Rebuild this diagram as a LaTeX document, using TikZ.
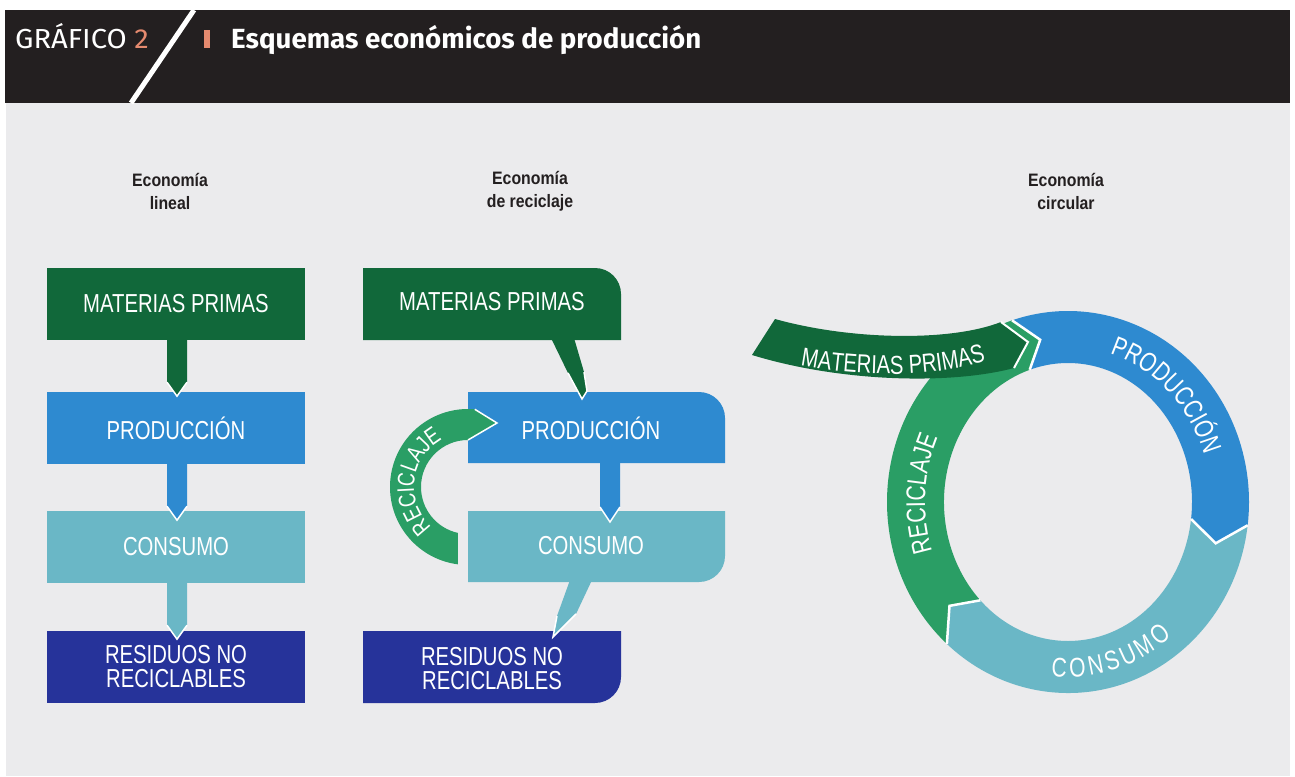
\documentclass[tikz,border=0pt]{standalone}
\usepackage{fontspec}
\usetikzlibrary{calc,decorations.text}
\newfontfamily\condfont[FakeStretch=0.78]{Liberation Sans}
\newfontfamily\hdrfont[FakeStretch=0.88]{Liberation Sans}
\newfontfamily\titlefont{Fira Sans}
\newfontfamily\gfont[FakeStretch=1.06]{Fira Sans}
\definecolor{cbg}{HTML}{EBEBED}
\definecolor{chead}{HTML}{231F20}
\definecolor{csalmon}{HTML}{E58A6F}
\definecolor{cmp}{HTML}{11683A}
\definecolor{cprod}{HTML}{2E8AD0}
\definecolor{ccons}{HTML}{6AB7C6}
\definecolor{cres}{HTML}{26339A}
\definecolor{crec}{HTML}{2A9E65}
\newcommand\lblfont{\condfont\fontsize{26}{24}\selectfont}
\newcommand\ringfnt{\condfont\fontsize{27}{27}\selectfont}
\newcommand\cfnt{\condfont\fontsize{24}{24}\selectfont}
\newcommand\banfnt{\condfont\fontsize{26}{26}\selectfont}
\begin{document}
\begin{tikzpicture}[x=1pt,y=1pt,
  lbl/.style={text=white, font=\lblfont, align=center, inner sep=0pt},
  box/.style={minimum width=258pt, minimum height=72pt, inner sep=0pt, lbl},
  hdr/.style={font=\hdrfont\bfseries\fontsize{18}{23}\selectfont, align=center, text=chead, inner sep=0pt},
  sep/.style={white, line width=1.5pt, line join=miter},
  ringtext/.style={decorate, decoration={text along path, text align=center, text color=white, text={|\ringfnt|#1}}},
  ringfit/.style={decorate, decoration={text along path, text align=fit to path, text color=white, text={|\ringfnt|#1}}}
]
\useasboundingbox (0,0) rectangle (1295,-776);
\fill[white] (0,0) rectangle (1295,-776);
\fill[cbg] (6,-103) rectangle (1290,-776);
% header
\fill[chead] (5,-10) rectangle (1290,-103);
\draw[white, line width=5pt] (194,-10) -- (131,-103);
\fill[csalmon] (204,-30) rectangle (209.5,-48.5);
\node[anchor=base west, text=white, font=\gfont\fontsize{27.5}{27}\selectfont, inner sep=0pt] (gnum) at (15,-48.5) {GRÁFICO \textcolor{csalmon}{2}};
\node[anchor=base west, text=white, font=\titlefont\bfseries\fontsize{27.7}{27}\selectfont, inner sep=0pt] (gtitle) at (231,-48.5) {Esquemas económicos de producción};
% column headers
\node[hdr] (h1) at (170,-191.5) {Economía\\lineal};
\node[hdr] (h2) at (530,-191.5) {Economía\\de reciclaje};
\node[hdr] (h3) at (1066,-191.5) {Economía\\circular};
% ---------------- linear economy
\node[box, fill=cmp] (lmp) at (176,-304) {MATERIAS PRIMAS};
\node[box, fill=cprod] (lpr) at (176,-428) {PRODUCCIÓN};
\node[box, fill=ccons] (lco) at (176,-547) {CONSUMO};
\node[box, fill=cres] (lre) at (176,-667) {RESIDUOS NO\\RECICLABLES};
\foreach \src/\col in {lmp/cmp, lpr/cprod, lco/ccons}{
  \fill[\col] ($(\src.south)+(-9,1)$) -- ++(20,0) -- ++(0,-43) -- ++(-10,-14) -- ++(-10,14) -- cycle;
  \draw[sep] ($(\src.south)+(11,-42)$) -- ++(-10,-14) -- ++(-10,14);
}
% ---------------- recycling economy
\fill[cmp] (363,-268) -- (595,-268) arc[start angle=90, end angle=0, radius=26] -- (621,-340) -- (363,-340) -- cycle;
\node[lbl] (mmp) at (492,-302) {MATERIAS PRIMAS};
\fill[cprod] (468,-392) -- (699,-392) arc[start angle=90, end angle=0, radius=26] -- (725,-463) -- (468,-463) -- cycle;
\node[lbl] (mpr) at (591,-428) {PRODUCCIÓN};
\fill[ccons] (468,-511) -- (725,-511) -- (725,-556) arc[start angle=0, end angle=-90, radius=26] -- (468,-582) -- cycle;
\node[lbl] (mco) at (591,-546) {CONSUMO};
\fill[cres] (363,-631) -- (621,-631) -- (621,-677) arc[start angle=0, end angle=-90, radius=26] -- (363,-703) -- cycle;
\node[lbl] (mre) at (492,-669) {RESIDUOS NO\\RECICLABLES};
% tails
\fill[cmp] (551,-338) -- (574,-338) -- (584,-372) -- (587,-391) -- (582,-399) -- (568,-373) -- cycle;
\draw[sep] (584,-372) -- (587,-391) -- (582,-399) -- (568,-373);
\fill[cprod] (600,-461) -- (620,-461) -- (620,-507) -- (610,-522) -- (600,-507) -- cycle;
\draw[sep] (620,-507) -- (610,-522) -- (600,-507);
\fill[ccons] (570,-580) -- (592,-580) -- (576,-614) -- (553,-637) -- (557,-616) -- cycle;
\draw[sep] (576,-614) -- (553,-637) -- (557,-616);
% reciclaje C
\coordinate (cc) at (468,-487);
\fill[crec] (cc) ++(262.6:78) arc[start angle=262.6, end angle=85, radius=78] -- (497,-423) -- (468,-440) arc[start angle=90, end angle=257.7, radius=47] -- cycle;
\draw[sep] (474.8,-409.3) -- (497,-423) -- (468,-440);
\path[decorate, decoration={text along path, text align=center, text color=white, text={|\cfnt|RECICLAJE}}] (cc) ++(232:54) arc[start angle=232, end angle=114, radius=54];
% ---------------- circular economy
\begin{scope}[shift={(1068,-502)}]
\fill[cprod] (108:181 and 191) arc[start angle=108, end angle=-7, x radius=181, y radius=191] -- (-14.5:152.5 and 165) -- (-7:124 and 139) arc[start angle=-7, end angle=108, x radius=124, y radius=139] -- (100.5:152.5 and 165) -- cycle;
\fill[ccons] (-7:181 and 191) arc[start angle=-7, end angle=-132, x radius=181, y radius=191] -- (-141:152.5 and 165) -- (-135:124 and 139) arc[start angle=-135, end angle=-7, x radius=124, y radius=139] -- (-14.5:152.5 and 165) -- cycle;
\fill[crec] (228:181 and 191) arc[start angle=228, end angle=108, x radius=181, y radius=191] -- (100.5:152.5 and 165) -- (108:124 and 139) arc[start angle=108, end angle=225, x radius=124, y radius=139] -- (219:152.5 and 165) -- cycle;
\draw[sep, line width=2.5pt] (-7:181 and 191) -- (-14.5:152.5 and 165) -- (-7:124 and 139);
\draw[sep, line width=2.5pt] (-132:181 and 191) -- (-141:152.5 and 165) -- (-135:124 and 139);
\draw[sep, line width=2.5pt] (108:181 and 191) -- (100.5:152.5 and 165) -- (108:124 and 139);
\path[ringtext=PRODUCCIÓN] (76:143 and 155.5) arc[start angle=76, end angle=15, x radius=143, y radius=155.5];
\path[ringfit=CONSUMO] (-96:162 and 175) arc[start angle=-96, end angle=-50, x radius=162, y radius=175];
\path[ringtext=RECICLAJE] (201:143 and 155.5) arc[start angle=201, end angle=153, x radius=143, y radius=155.5];
\end{scope}
% materias primas banner
\fill[cmp] (775,-319) .. controls (850,-340) and (950,-342) .. (1001,-322) -- (1028,-342) -- (1014,-368) .. controls (950,-385) and (840,-382) .. (752,-355) -- cycle;
\draw[sep, line width=2pt] (1001,-322) -- (1028,-342) -- (1014,-368);
\path[decorate, decoration={text along path, text align=center, text color=white, text={|\banfnt|MATERIAS PRIMAS}}] (786,-363) .. controls (860,-379) and (940,-378) .. (1000,-357);
\end{tikzpicture}
\end{document}
